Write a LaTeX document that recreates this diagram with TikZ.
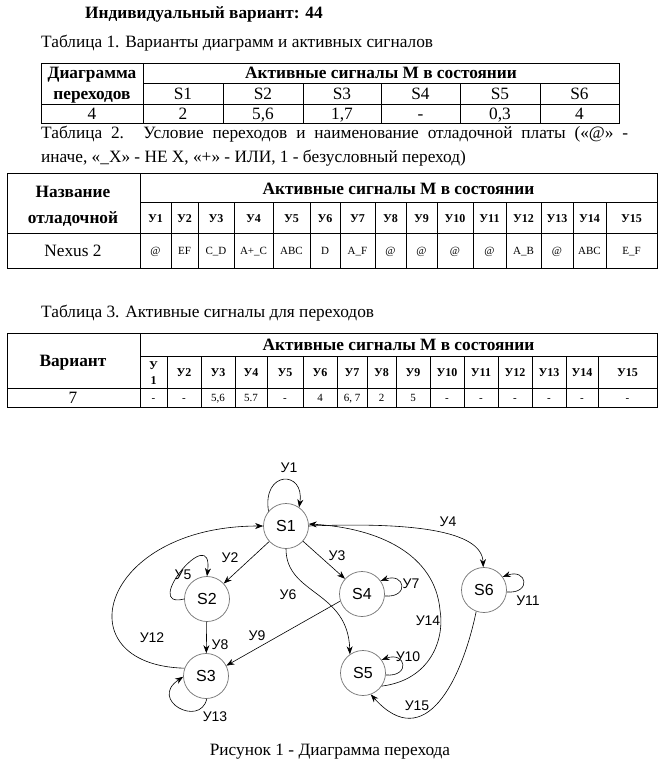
\documentclass[tikz,border=0pt]{standalone}
\usepackage{fontspec}
\setmainfont{Liberation Serif}
\newfontfamily\diagfont{Liberation Sans}
\usetikzlibrary{arrows.meta,positioning}

\tikzset{
  txt/.style={inner sep=0pt, text height=11.5pt, text depth=1pt, font=\fontsize{17.3}{20}\selectfont},
  bold/.style={txt, font=\fontsize{17.3}{20}\selectfont\bfseries},
  hd/.style={inner sep=0pt, text height=8.5pt, text depth=0.5pt, font=\fontsize{12}{14}\selectfont\bfseries},
  val/.style={inner sep=0pt, text height=7.5pt, text depth=0.5pt, font=\fontsize{11}{12}\selectfont},
  grid/.style={line width=1pt},
  state/.style={circle, draw=black!55, line width=0.7pt, minimum size=45pt, inner sep=0pt,
    text height=11.5pt, text depth=0.5pt, font=\diagfont\fontsize{16}{19}\selectfont},
  lbl/.style={inner sep=0pt, text height=10.5pt, text depth=0.5pt, font=\diagfont\fontsize{14}{16}\selectfont},
  arr/.style={-{Stealth[length=8pt,width=6pt]}, line width=0.6pt},
}

\begin{document}
\begin{tikzpicture}[x=1pt,y=-1pt]
\useasboundingbox (0,0) rectangle (664,769);
\fill[white] (0,0) rectangle (664,769);

\node[bold, anchor=west] (title) at (85,13) {Индивидуальный вариант: 44};
\node[txt, anchor=west] (cap1) at (41,42) {Таблица 1. Варианты диаграмм и активных сигналов};

\draw[grid] (41,63) rectangle (619,123);
\draw[grid] (143,83.5) -- (619,83.5);
\draw[grid] (41,104) -- (619,104);
\draw[grid] (143,63) -- (143,123);
\foreach \x in {223,303,381,460,540} \draw[grid] (\x,83.5) -- (\x,123);
\node[bold] (t1a) at (92,73) {Диаграмма};
\node[bold] (t1b) at (92,94) {переходов};
\node[txt] (t1c) at (92,114) {4};
\node[bold] (t1h) at (381,73) {Активные сигналы М в состоянии};
\foreach \l/\r/\v [count=\i] in {143/223/2, 223/303/{5,6}, 303/381/{1,7}, 381/460/-, 460/540/{0,3}, 540/619/4} {
  \node[txt] (t1s\i) at ({(\l+\r)/2},94) {S\i};
  \node[txt] (t1v\i) at ({(\l+\r)/2},114) {\v};
}

\node[txt, anchor=west] (cap2a) at (41,133) {\makebox[587pt][s]{Таблица 2. Условие переходов и наименование отладочной платы («@» -}};
\node[txt, anchor=west] (cap2b) at (41,157) {иначе, «\_X» - НЕ X, «+» - ИЛИ, 1 - безусловный переход)};

\draw[grid] (7,173) rectangle (657,268);
\draw[grid] (140,202.5) -- (657,202.5);
\draw[grid] (7,233) -- (657,233);
\draw[grid] (140,173) -- (140,268);
\foreach \x in {171,198,234,273,310,340,375,406,437,473,506,541,573,606} \draw[grid] (\x,202.5) -- (\x,268);
\node[bold] (t2a) at (73,192) {Название};
\node[bold] (t2b) at (73,218) {отладочной};
\node[txt] (t2c) at (73,251) {Nexus 2};
\node[bold] (t2h) at (398.5,189) {Активные сигналы М в состоянии};
\foreach \l/\r/\v [count=\i] in {140/171/@, 171/198/EF, 198/234/C\_D, 234/273/A+\_C, 273/310/ABC, 310/340/D, 340/375/A\_F, 375/406/@, 406/437/@, 437/473/@, 473/506/@, 506/541/A\_B, 541/573/@, 573/606/ABC, 606/657/E\_F} {
  \node[hd] (t2y\i) at ({(\l+\r)/2},218) {У\i};
  \node[val] (t2v\i) at ({(\l+\r)/2},251) {\v};
}

\node[txt, anchor=west] (cap3) at (41,312) {Таблица 3. Активные сигналы для переходов};

\draw[grid] (7,333) rectangle (657,407);
\draw[grid] (140,356) -- (657,356);
\draw[grid] (7,388) -- (657,388);
\draw[grid] (140,333) -- (140,407);
\foreach \x in {167,201,235,267,303,337,367,396,430,464,498,532,566,598} \draw[grid] (\x,356) -- (\x,407);
\node[bold] (t3a) at (73,361) {Вариант};
\node[txt] (t3b) at (73,398) {7};
\node[bold] (t3h) at (398.5,345) {Активные сигналы М в состоянии};
\node[hd] (t3y1a) at (153.5,365) {У};
\node[hd] (t3y1b) at (153.5,380) {1};
\node[val] (t3v1) at (153.5,398) {-};
\foreach \l/\r/\v [count=\i from 2] in {167/201/-, 201/235/{5,6}, 235/267/5.7, 267/303/-, 303/337/4, 337/367/{6, 7}, 367/396/2, 396/430/5, 430/464/-, 464/498/-, 498/532/-, 532/566/-, 566/598/-, 598/657/-} {
  \node[hd] (t3y\i) at ({(\l+\r)/2},372) {У\i};
  \node[val] (t3v\i) at ({(\l+\r)/2},398) {\v};
}

\node[state] (S1) at (286,526) {S1};
\node[state] (S2) at (207,599) {S2};
\node[state] (S3) at (206,676) {S3};
\node[state] (S4) at (362,594) {S4};
\node[state] (S5) at (363,673) {S5};
\node[state] (S6) at (484,590) {S6};

\draw[arr] (S1.140) .. controls (262,470) and (305,470) .. (S1.55);
\draw[arr] (S1) -- (S2);
\draw[arr] (S1) -- (S4);
\draw[arr] (S1.0) .. controls (410,522) and (482,530) .. (S6.92);
\draw[arr] (S2.180) .. controls (140,610) and (214,520) .. (S2.90);
\draw[arr] (S1.270) .. controls (286,595) and (348,590) .. (S5.125);
\draw[arr] (S4.355) .. controls (410,598) and (405,572) .. (S4.35);
\draw[arr] (S2) -- (S3);
\draw[arr] (S4.198) -- (S3.27);
\draw[arr] (S5.355) .. controls (411,677) and (406,651) .. (S5.35);
\draw[arr] (S6.355) .. controls (532,594) and (527,568) .. (S6.35);
\draw[arr] (S3.160) .. controls (62,665) and (100,526) .. (S1.180);
\draw[arr] (S3.272) .. controls (200,728) and (148,700) .. (S3.182);
\draw[arr] (S5.325) .. controls (430,680) and (445,640) .. (440,610) .. controls (435,555) and (380,528) .. (S1.5);
\draw[arr] (S6.250) .. controls (462,680) and (425,755) .. (S5.290);

\node[lbl] (l1) at (289,467) {У1};
\node[lbl] (l2) at (230,557) {У2};
\node[lbl] (l3) at (337,555) {У3};
\node[lbl] (l4) at (448,521) {У4};
\node[lbl] (l5) at (183,574) {У5};
\node[lbl] (l6) at (288,594) {У6};
\node[lbl] (l7) at (411,583) {У7};
\node[lbl] (l8) at (220,644) {У8};
\node[lbl] (l9) at (257,635) {У9};
\node[lbl] (l10) at (408,656) {У10};
\node[lbl] (l11) at (528,600) {У11};
\node[lbl] (l12) at (152,637) {У12};
\node[lbl] (l13) at (215,716) {У13};
\node[lbl] (l14) at (428,620) {У14};
\node[lbl] (l15) at (417,705) {У15};

\node[txt] (fig) at (330,750) {Рисунок 1 - Диаграмма перехода};
\end{tikzpicture}
\end{document}
